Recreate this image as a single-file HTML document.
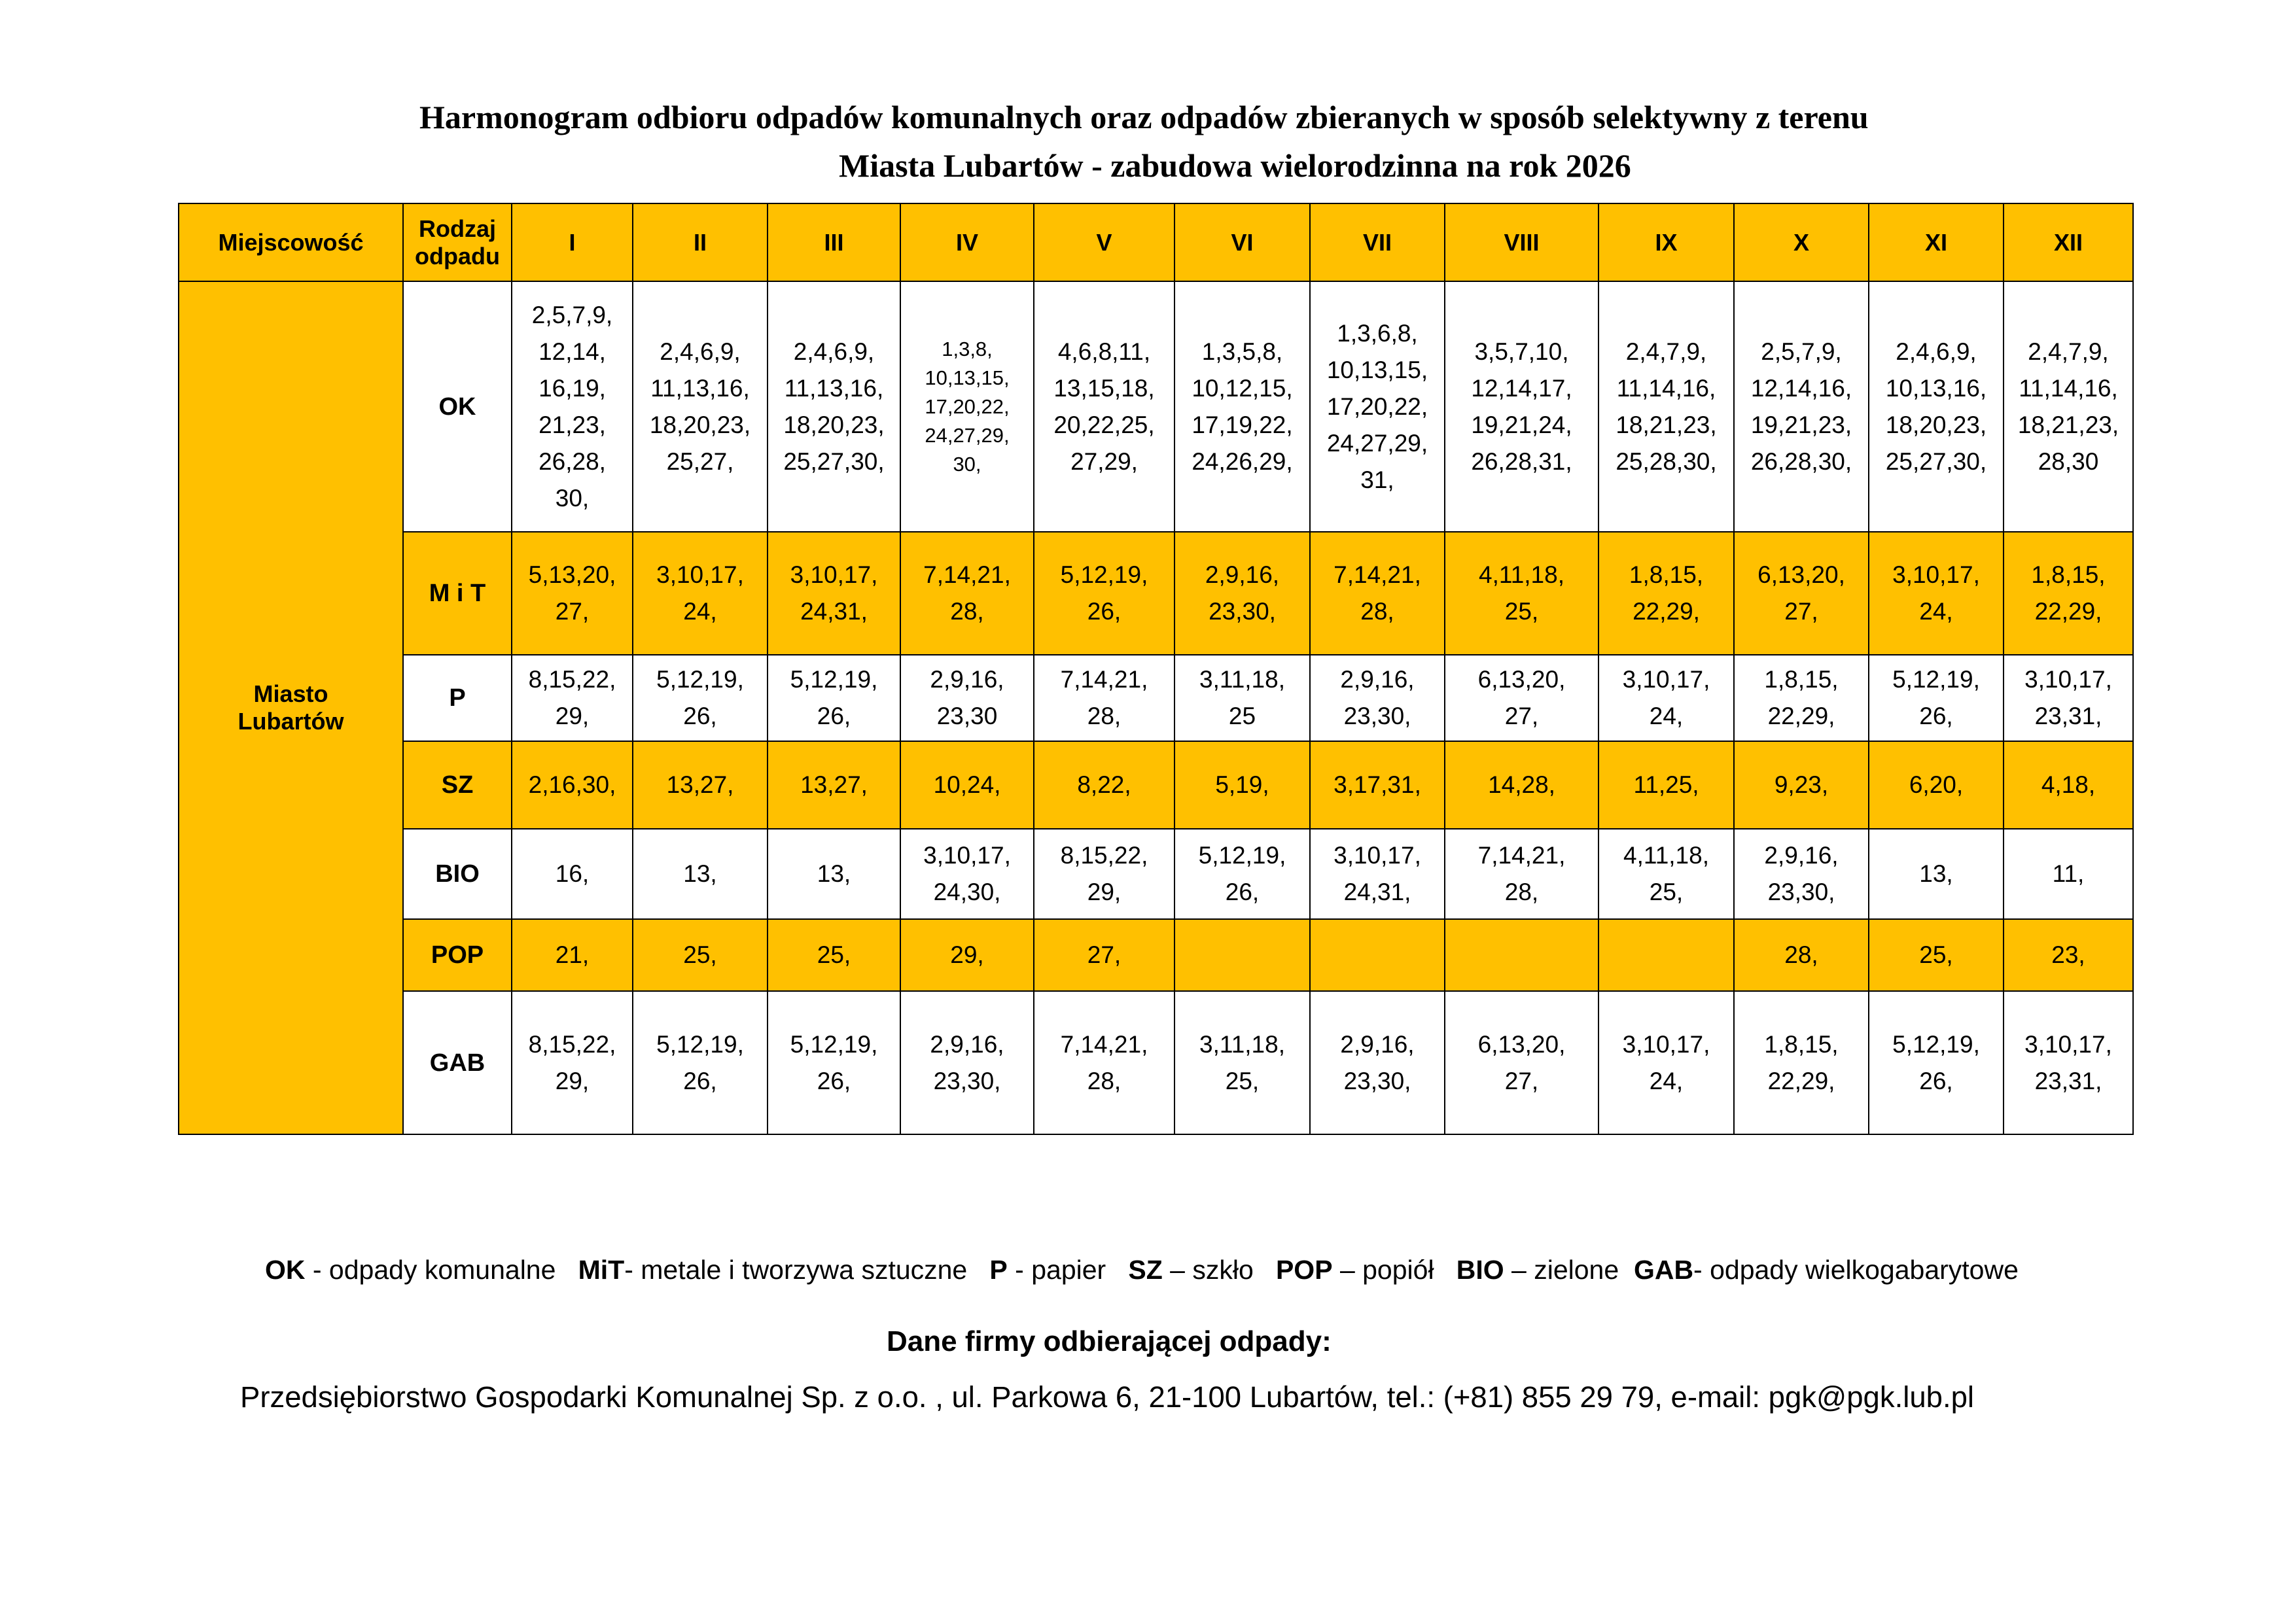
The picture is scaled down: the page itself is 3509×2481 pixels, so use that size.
<!DOCTYPE html>
<html>
<head>
<meta charset="utf-8">
<style>
  html,body{margin:0;padding:0;background:#fff;}
  body{width:3509px;height:2481px;position:relative;overflow:hidden;font-family:"Liberation Sans",sans-serif;}
  .title{position:absolute;font-family:"Liberation Serif",serif;font-weight:bold;font-size:50px;white-space:nowrap;color:#000;}
  table{position:absolute;left:272px;top:310px;border-collapse:collapse;table-layout:fixed;width:2987px;}
  td{border:2px solid #000;text-align:center;vertical-align:middle;padding:0;font-size:37px;line-height:56px;color:#000;}
  .y{background:#FFC000;}
  .hd{font-weight:bold;font-size:36px;line-height:42px;}
  .rt{font-weight:bold;font-size:38px;}
  .txt{position:absolute;white-space:nowrap;color:#000;font-size:41px;}
</style>
</head>
<body>
<div class="title" style="left:641px;top:150px;">Harmonogram odbioru odpadów komunalnych oraz odpadów zbieranych w sposób selektywny z terenu</div>
<div class="title" style="left:1282px;top:224px;">Miasta Lubartów - zabudowa wielorodzinna na rok 2026</div>

<table id="tbl">
<colgroup>
<col style="width:343px"><col style="width:166px"><col style="width:185px"><col style="width:206px"><col style="width:203px"><col style="width:204px"><col style="width:215px"><col style="width:207px"><col style="width:206px"><col style="width:235px"><col style="width:207px"><col style="width:206px"><col style="width:206px"><col style="width:198px">
</colgroup>
<tbody id="tb"></tbody>
</table>

<div class="txt" style="left:405px;top:1918px;"><b>OK</b> - odpady komunalne&nbsp;&nbsp; <b>MiT</b>- metale i tworzywa sztuczne&nbsp;&nbsp; <b>P</b> - papier&nbsp;&nbsp; <b>SZ</b> – szkło&nbsp;&nbsp; <b>POP</b> – popiół&nbsp;&nbsp; <b>BIO</b> – zielone&nbsp; <b>GAB</b>- odpady wielkogabarytowe</div>
<div class="txt" style="left:1355px;top:2026px;font-weight:bold;font-size:44px;">Dane firmy odbierającej odpady:</div>
<div class="txt" style="left:367px;top:2110px;font-size:45.5px;">Przedsiębiorstwo Gospodarki Komunalnej Sp. z o.o. , ul. Parkowa 6, 21-100 Lubartów, tel.: (+81) 855 29 79, e-mail: pgk@pgk.lub.pl</div>

<script>
const months = ["I","II","III","IV","V","VI","VII","VIII","IX","X","XI","XII"];
const wasteTypes = ["OK","M i T","P","SZ","BIO","POP","GAB"];
const rowHeights = [383,188,132,134,138,110,219];
const yellowRows = [false,true,false,true,false,true,false];
const okDates = ["2,5,7,9,<br>12,14,<br>16,19,<br>21,23,<br>26,28,<br>30,","2,4,6,9,<br>11,13,16,<br>18,20,23,<br>25,27,","2,4,6,9,<br>11,13,16,<br>18,20,23,<br>25,27,30,","1,3,8,<br>10,13,15,<br>17,20,22,<br>24,27,29,<br>30,","4,6,8,11,<br>13,15,18,<br>20,22,25,<br>27,29,","1,3,5,8,<br>10,12,15,<br>17,19,22,<br>24,26,29,","1,3,6,8,<br>10,13,15,<br>17,20,22,<br>24,27,29,<br>31,","3,5,7,10,<br>12,14,17,<br>19,21,24,<br>26,28,31,","2,4,7,9,<br>11,14,16,<br>18,21,23,<br>25,28,30,","2,5,7,9,<br>12,14,16,<br>19,21,23,<br>26,28,30,","2,4,6,9,<br>10,13,16,<br>18,20,23,<br>25,27,30,","2,4,7,9,<br>11,14,16,<br>18,21,23,<br>28,30"];
const mitDates = ["5,13,20,<br>27,","3,10,17,<br>24,","3,10,17,<br>24,31,","7,14,21,<br>28,","5,12,19,<br>26,","2,9,16,<br>23,30,","7,14,21,<br>28,","4,11,18,<br>25,","1,8,15,<br>22,29,","6,13,20,<br>27,","3,10,17,<br>24,","1,8,15,<br>22,29,"];
const pDates = ["8,15,22,<br>29,","5,12,19,<br>26,","5,12,19,<br>26,","2,9,16,<br>23,30","7,14,21,<br>28,","3,11,18,<br>25","2,9,16,<br>23,30,","6,13,20,<br>27,","3,10,17,<br>24,","1,8,15,<br>22,29,","5,12,19,<br>26,","3,10,17,<br>23,31,"];
const szDates = ["2,16,30,","13,27,","13,27,","10,24,","8,22,","5,19,","3,17,31,","14,28,","11,25,","9,23,","6,20,","4,18,"];
const bioDates = ["16,","13,","13,","3,10,17,<br>24,30,","8,15,22,<br>29,","5,12,19,<br>26,","3,10,17,<br>24,31,","7,14,21,<br>28,","4,11,18,<br>25,","2,9,16,<br>23,30,","13,","11,"];
const popDates = ["21,","25,","25,","29,","27,","","","","","28,","25,","23,"];
const gabDates = ["8,15,22,<br>29,","5,12,19,<br>26,","5,12,19,<br>26,","2,9,16,<br>23,30,","7,14,21,<br>28,","3,11,18,<br>25,","2,9,16,<br>23,30,","6,13,20,<br>27,","3,10,17,<br>24,","1,8,15,<br>22,29,","5,12,19,<br>26,","3,10,17,<br>23,31,"];
const allDates = [okDates,mitDates,pDates,szDates,bioDates,popDates,gabDates];

const tb = document.getElementById('tb');
const hr = document.createElement('tr');
hr.style.height = '119px';
const h0 = document.createElement('td');
h0.className = 'y hd';
h0.innerHTML = 'Miejscowość';


hr.appendChild(h0);
const h1 = document.createElement('td');
h1.className = 'y hd';
h1.innerHTML = 'Rodzaj<br>odpadu';


hr.appendChild(h1);
months.forEach(function(m){
  const c = document.createElement('td');
  c.className = 'y hd';
  c.textContent = m;
  
  
  hr.appendChild(c);
});
tb.appendChild(hr);

wasteTypes.forEach(function(w, r){
  const tr = document.createElement('tr');
  tr.style.height = rowHeights[r] + 'px';
  if (r === 0) {
    const loc = document.createElement('td');
    loc.className = 'y hd';
    loc.rowSpan = wasteTypes.length;
    loc.innerHTML = 'Miasto<br>Lubartów';
    
    
    tr.appendChild(loc);
  }
  const t = document.createElement('td');
  t.className = 'rt' + (yellowRows[r] ? ' y' : '');
  t.textContent = w;
  
  
  tr.appendChild(t);
  allDates[r].forEach(function(d, i){
    const c = document.createElement('td');
    if (yellowRows[r]) c.className = 'y';
    c.innerHTML = d;
    if (r === 0 && i === 3) { c.style.fontSize = '31px'; c.style.lineHeight = '44px'; }
    
    
    tr.appendChild(c);
  });
  tb.appendChild(tr);
});
</script>
</body>
</html>
